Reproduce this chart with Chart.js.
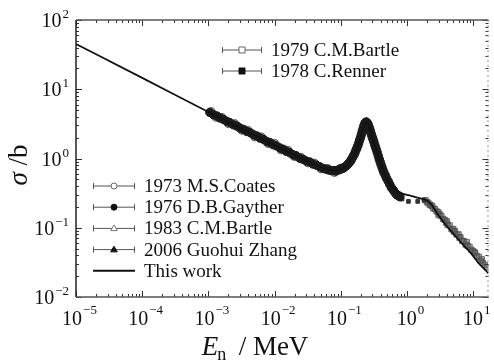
<!DOCTYPE html>
<html>
<head>
<meta charset="utf-8">
<script src="https://cdn.jsdelivr.net/npm/chart.js@4"></script>
<style>
  body { margin: 0; background: #fff; }
  #wrap { width: 494px; height: 360px; position: relative; }
</style>
</head>
<body>
<div id="wrap"><canvas id="xsChart"></canvas></div>
<script>
// decades shown on the axes
const xDecades = [-5, -4, -3, -2, -1, 0, 1];
const yDecades = [-2, -1, 0, 1, 2];

// This work (calculation)
const workE = [1e-5, 1e-4, 1e-3, 0.003, 0.01, 0.02, 0.03, 0.04, 0.05, 0.06, 0.07, 0.08, 0.09, 0.1, 0.11, 0.12, 0.13, 0.14, 0.15, 0.16, 0.17, 0.18, 0.19, 0.2, 0.21, 0.22, 0.23, 0.24, 0.25, 0.26, 0.27, 0.28, 0.3, 0.32, 0.34, 0.36, 0.38, 0.4, 0.43, 0.46, 0.5, 0.55, 0.6, 0.65, 0.7, 0.8, 0.9, 1.05, 1.3, 1.6, 1.9, 2.3, 3.0, 4.0, 5.3, 7.0, 9.4, 12, 17];
const workS = [45, 14.6, 4.7, 2.75, 1.55, 1.12, 0.93, 0.82, 0.75, 0.70, 0.68, 0.67, 0.68, 0.70, 0.73, 0.78, 0.84, 0.92, 1.02, 1.15, 1.32, 1.52, 1.78, 2.05, 2.45, 2.85, 3.2, 3.35, 3.3, 3.05, 2.75, 2.45, 2.0, 1.65, 1.38, 1.15, 0.98, 0.85, 0.70, 0.60, 0.50, 0.43, 0.39, 0.36, 0.34, 0.32, 0.305, 0.295, 0.28, 0.265, 0.255, 0.22, 0.15, 0.105, 0.077, 0.057, 0.042, 0.031, 0.022];

// 1976 D.B.Gayther
const gaytherE = [0.00105, 0.0012, 0.00135, 0.0015, 0.0017, 0.0019, 0.0021, 0.0024, 0.0027, 0.003, 0.0034, 0.0038, 0.0043, 0.0048, 0.0054, 0.006, 0.0068, 0.0076, 0.0085, 0.0095, 0.0107, 0.012, 0.0135, 0.015, 0.017, 0.019, 0.021, 0.024, 0.027, 0.030, 0.034, 0.038, 0.043, 0.048, 0.054, 0.060, 0.066, 0.072, 0.078, 0.084, 0.090, 0.096, 0.102, 0.108, 0.114, 0.120, 0.126, 0.132, 0.138, 0.144, 0.150, 0.156, 0.162, 0.168, 0.174, 0.180, 0.186, 0.192, 0.198, 0.204, 0.210, 0.216, 0.222, 0.228, 0.234, 0.240, 0.246, 0.252, 0.258, 0.264, 0.270, 0.276, 0.282, 0.290, 0.298, 0.306, 0.315, 0.325, 0.335, 0.345, 0.356, 0.368, 0.380, 0.393, 0.406, 0.420, 0.435, 0.450, 0.47, 0.49, 0.52, 0.55, 0.58, 0.62, 0.66, 0.70, 0.74, 0.78];
const gaytherS = [4.62, 4.28, 4.10, 3.84, 3.66, 3.43, 3.31, 3.06, 2.94, 2.75, 2.63, 2.46, 2.35, 2.20, 2.11, 1.97, 1.89, 1.76, 1.70, 1.58, 1.52, 1.42, 1.36, 1.27, 1.21, 1.13, 1.10, 1.01, 0.97, 0.92, 0.89, 0.83, 0.80, 0.76, 0.72, 0.70, 0.68, 0.67, 0.67, 0.66, 0.68, 0.69, 0.71, 0.72, 0.75, 0.78, 0.81, 0.86, 0.90, 0.96, 1.03, 1.10, 1.18, 1.29, 1.40, 1.52, 1.66, 1.84, 2.00, 2.21, 2.44, 2.68, 2.92, 3.12, 3.28, 3.36, 3.34, 3.24, 3.10, 2.92, 2.74, 2.56, 2.40, 2.21, 2.04, 1.89, 1.75, 1.58, 1.45, 1.33, 1.21, 1.09, 0.98, 0.89, 0.81, 0.74, 0.67, 0.62, 0.57, 0.52, 0.47, 0.42, 0.38, 0.35, 0.32, 0.30, 0.29, 0.28];

// 1973 M.S.Coates
const coatesE = [0.0011, 0.0013, 0.0016, 0.002, 0.0025, 0.0032, 0.004, 0.005, 0.0063, 0.008, 0.01, 0.0125, 0.016, 0.02, 0.025, 0.032, 0.04, 0.05, 0.063, 0.08, 0.1];
const coatesS = [4.85, 3.88, 3.98, 3.14, 3.24, 2.52, 2.58, 2.02, 2.08, 1.62, 1.68, 1.31, 1.33, 1.05, 1.06, 0.85, 0.87, 0.70, 0.73, 0.62, 0.74];

// 1983 C.M.Bartle
const bartle83E = [0.11, 0.14, 0.17, 0.2, 0.22, 0.235, 0.25, 0.27, 0.3, 0.33, 0.37, 0.42, 0.48, 0.56, 0.65];
const bartle83S = [0.74, 0.93, 1.36, 2.08, 2.8, 3.35, 3.2, 2.8, 2.0, 1.52, 1.08, 0.76, 0.54, 0.42, 0.33];

// 2006 Guohui Zhang
const zhangE = [0.55, 0.62, 0.7, 0.76];
const zhangS = [0.43, 0.36, 0.31, 0.285];

// 1978 C.Renner
const rennerE = [0.84, 1.05, 1.45, 1.8];
const rennerS = [0.26, 0.24, 0.24, 0.25];

// 1979 C.M.Bartle
const bartle79E = [1.9, 2.0, 2.1, 2.2, 2.3, 2.4, 2.5, 2.65, 2.8, 2.95, 3.0, 3.1, 3.3, 3.5, 3.7, 3.9, 4.0, 4.1, 4.4, 4.7, 5.0, 5.1, 5.3, 5.6, 6.0, 6.2, 6.4, 6.8, 7.2, 7.7, 8.0, 8.2, 8.8, 9.4, 10, 10.5, 10.7, 11.4, 12.2, 13, 13.5, 14, 15, 16];
const bartle79S = [0.25, 0.235, 0.228, 0.215, 0.21, 0.205, 0.19, 0.185, 0.172, 0.168, 0.152, 0.158, 0.148, 0.134, 0.13, 0.118, 0.124, 0.11, 0.108, 0.095, 0.096, 0.088, 0.089, 0.08, 0.08, 0.072, 0.073, 0.065, 0.064, 0.057, 0.062, 0.055, 0.053, 0.048, 0.046, 0.044, 0.043, 0.039, 0.038, 0.033, 0.035, 0.031, 0.029, 0.027];

const pts = (xs, ys) => xs.map((x, i) => ({ x: x, y: ys[i] }));
const serif = '"Liberation Serif", "Times New Roman", serif';

function marker(ctx, style, filled, x, y, r, color) {
  ctx.save();
  ctx.beginPath();
  if (style === 'circle') {
    ctx.arc(x, y, r, 0, Math.PI * 2);
  } else if (style === 'rect') {
    ctx.rect(x - r, y - r, 2 * r, 2 * r);
  } else if (style === 'triangle') {
    ctx.moveTo(x, y - r * 1.15);
    ctx.lineTo(x + r * 1.1, y + r * 0.75);
    ctx.lineTo(x - r * 1.1, y + r * 0.75);
    ctx.closePath();
  }
  ctx.fillStyle = filled ? color : '#fff';
  ctx.fill();
  ctx.lineWidth = 1;
  ctx.strokeStyle = color;
  ctx.stroke();
  ctx.restore();
}

// legend rows: [label, style, filled, colour]
const legendTop = [
  ['1979 C.M.Bartle', 'rect', false, '#666'],
  ['1978 C.Renner', 'rect', true, '#111']
];
const legendBottom = [
  ['1973 M.S.Coates', 'circle', false, '#666'],
  ['1976 D.B.Gayther', 'circle', true, '#111'],
  ['1983 C.M.Bartle', 'triangle', false, '#777'],
  ['2006 Guohui Zhang', 'triangle', true, '#111'],
  ['This work', 'line', true, '#111']
];

function drawLegend(ctx, rows, x0, x1, y0, dy) {
  rows.forEach((row, i) => {
    const y = y0 + i * dy;
    ctx.save();
    if (row[1] === 'line') {
      ctx.strokeStyle = '#111';
      ctx.lineWidth = 2;
      ctx.beginPath(); ctx.moveTo(x0, y); ctx.lineTo(x1, y); ctx.stroke();
    } else {
      ctx.strokeStyle = '#555';
      ctx.lineWidth = 1;
      ctx.beginPath();
      ctx.moveTo(x0, y); ctx.lineTo(x1, y);
      ctx.moveTo(x0 + 0.5, y - 3); ctx.lineTo(x0 + 0.5, y + 3);
      ctx.moveTo(x1 - 0.5, y - 3); ctx.lineTo(x1 - 0.5, y + 3);
      ctx.stroke();
      marker(ctx, row[1], row[2], (x0 + x1) / 2, y, 3, row[3]);
    }
    ctx.fillStyle = '#111';
    ctx.font = '19px ' + serif;
    ctx.textBaseline = 'middle';
    ctx.textAlign = 'left';
    ctx.fillText(row[0], x1 + 9, y + 1);
    ctx.restore();
  });
}

function expText(e) {
  return e < 0 ? '\u2212' + Math.abs(e) : String(e);
}

const framePlugin = {
  id: 'frame',
  afterDatasetsDraw(chart) {
    const ctx = chart.ctx;
    const a = chart.chartArea;
    const xs = chart.scales.x, ys = chart.scales.y;
    ctx.save();

    // ticks, pointing inward on all four sides
    ctx.strokeStyle = '#333';
    ctx.lineWidth = 1;
    ctx.beginPath();
    xDecades.forEach(d => {
      for (let m = 1; m <= 9; m++) {
        const v = m * Math.pow(10, d);
        if (v < xs.min || v > xs.max) continue;
        const px = Math.round(xs.getPixelForValue(v)) + 0.5;
        const len = m === 1 ? 6 : 3;
        ctx.moveTo(px, a.bottom); ctx.lineTo(px, a.bottom - len);
        ctx.moveTo(px, a.top); ctx.lineTo(px, a.top + len);
      }
    });
    yDecades.forEach(d => {
      for (let m = 1; m <= 9; m++) {
        const v = m * Math.pow(10, d);
        if (v < ys.min || v > ys.max) continue;
        const py = Math.round(ys.getPixelForValue(v)) + 0.5;
        const len = m === 1 ? 6 : 3;
        ctx.moveTo(a.left, py); ctx.lineTo(a.left + len, py);
        ctx.moveTo(a.right, py); ctx.lineTo(a.right - len, py);
      }
    });
    ctx.stroke();

    // frame
    ctx.lineWidth = 1.5;
    ctx.strokeStyle = '#222';
    ctx.beginPath();
    ctx.moveTo(a.left, a.top); ctx.lineTo(a.left, a.bottom);
    ctx.stroke();
    ctx.strokeStyle = '#555';
    ctx.beginPath();
    ctx.moveTo(a.left, a.bottom); ctx.lineTo(a.right, a.bottom);
    ctx.moveTo(a.left, a.top); ctx.lineTo(a.right, a.top);
    ctx.stroke();
    ctx.setLineDash([2, 3]);
    ctx.lineWidth = 1;
    ctx.strokeStyle = '#999';
    ctx.beginPath();
    ctx.moveTo(a.right - 0.5, a.top); ctx.lineTo(a.right - 0.5, a.bottom);
    ctx.stroke();
    ctx.setLineDash([]);

    // tick labels 10^n
    ctx.fillStyle = '#111';
    ctx.textBaseline = 'alphabetic';
    xDecades.forEach(d => {
      const px = xs.getPixelForValue(Math.pow(10, d));
      ctx.font = '20px ' + serif;
      const w1 = ctx.measureText('10').width;
      ctx.font = '13px ' + serif;
      const w2 = ctx.measureText(expText(d)).width;
      const left = px + 3 - (w1 + w2) / 2;
      ctx.textAlign = 'left';
      ctx.font = '20px ' + serif;
      ctx.fillText('10', left, a.bottom + 28);
      ctx.font = '13px ' + serif;
      ctx.fillText(expText(d), left + w1 + 1, a.bottom + 17);
    });
    yDecades.forEach(d => {
      const py = ys.getPixelForValue(Math.pow(10, d));
      ctx.font = '13px ' + serif;
      const w2 = ctx.measureText(expText(d)).width;
      const right = a.left - 7;
      ctx.textAlign = 'right';
      ctx.fillText(expText(d), right, py - 2);
      ctx.font = '20px ' + serif;
      ctx.fillText('10', right - w2 - 1, py + 7);
    });

    // axis titles
    ctx.textAlign = 'left';
    ctx.font = 'italic 27px ' + serif;
    const wE = ctx.measureText('E').width;
    ctx.font = '18px ' + serif;
    const wn = ctx.measureText('n').width;
    ctx.font = '27px ' + serif;
    const wM = ctx.measureText('  / MeV').width;
    let tx = 256 - (wE + wn + wM) / 2;
    const ty = 355;
    ctx.font = 'italic 27px ' + serif;
    ctx.fillText('E', tx, ty);
    ctx.font = '18px ' + serif;
    ctx.fillText('n', tx + wE - 1, ty + 5);
    ctx.font = '27px ' + serif;
    ctx.fillText('  / MeV', tx + wE + wn - 2, ty);

    ctx.save();
    ctx.translate(27, 165);
    ctx.rotate(-Math.PI / 2);
    ctx.font = 'italic 27px ' + serif;
    const ws = ctx.measureText('\u03c3').width;
    ctx.font = '27px ' + serif;
    const wb = ctx.measureText(' /b').width;
    const sx = -(ws + wb) / 2;
    ctx.font = 'italic 27px ' + serif;
    ctx.fillText('\u03c3', sx, 0);
    ctx.font = '27px ' + serif;
    ctx.fillText(' /b', sx + ws, 0);
    ctx.restore();

    // legends
    drawLegend(ctx, legendTop, 222, 262, 50, 21);
    drawLegend(ctx, legendBottom, 93, 135, 186, 21.2);

    ctx.restore();
  }
};

new Chart(document.getElementById('xsChart'), {
  type: 'scatter',
  data: {
    datasets: [
      {
        label: 'This work',
        type: 'line',
        data: pts(workE, workS),
        borderColor: '#111',
        borderWidth: 1.8,
        pointRadius: 0,
        cubicInterpolationMode: 'monotone',
        order: 0
      },
      {
        label: '1976 D.B.Gayther',
        data: pts(gaytherE, gaytherS),
        pointStyle: 'circle',
        pointRadius: 4.2,
        backgroundColor: '#1a1a1a',
        borderColor: '#1a1a1a',
        borderWidth: 1,
        order: 2
      },
      {
        label: '1973 M.S.Coates',
        data: pts(coatesE, coatesS),
        pointStyle: 'circle',
        pointRadius: 3.6,
        backgroundColor: 'rgba(110,110,110,0.6)',
        borderColor: '#666',
        borderWidth: 1,
        order: 3
      },
      {
        label: '1983 C.M.Bartle',
        data: pts(bartle83E, bartle83S),
        pointStyle: 'triangle',
        pointRadius: 4,
        backgroundColor: '#333',
        borderColor: '#333',
        borderWidth: 1,
        order: 3
      },
      {
        label: '2006 Guohui Zhang',
        data: pts(zhangE, zhangS),
        pointStyle: 'triangle',
        pointRadius: 4.5,
        backgroundColor: '#222',
        borderColor: '#222',
        borderWidth: 1,
        order: 2
      },
      {
        label: '1978 C.Renner',
        data: pts(rennerE, rennerS),
        pointStyle: 'rect',
        pointRadius: 2.6,
        backgroundColor: '#333',
        borderColor: '#333',
        borderWidth: 1,
        order: 2
      },
      {
        label: '1979 C.M.Bartle',
        data: pts(bartle79E, bartle79S),
        pointStyle: 'rect',
        pointRadius: 3.8,
        backgroundColor: 'rgba(95,95,95,0.55)',
        borderColor: 'rgba(70,70,70,0.7)',
        borderWidth: 1,
        order: 4
      }
    ]
  },
  options: {
    responsive: true,
    maintainAspectRatio: false,
    animation: false,
    layout: { padding: { left: 76, top: 20, right: 2, bottom: 63 } },
    plugins: { legend: { display: false }, tooltip: { enabled: false } },
    scales: {
      x: { type: 'logarithmic', display: false, min: 1e-5, max: 17 },
      y: { type: 'logarithmic', display: false, min: 0.01, max: 100 }
    }
  },
  plugins: [framePlugin]
});
</script>
</body>
</html>
